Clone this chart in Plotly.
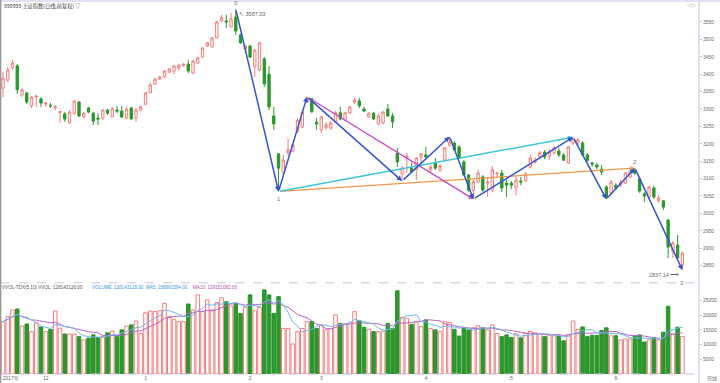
import plotly.graph_objects as go
import pandas as pd

# ---------------- data ----------------
opens = [3360, 3383, 3418, 3424, 3340, 3346, 3309, 3334, 3329, 3314,
         3311, 3303, 3290, 3286, 3260, 3288, 3320, 3277, 3303, 3288,
         3274, 3274, 3297, 3277, 3297, 3294, 3274, 3303, 3274, 3297,
         3314, 3346, 3372, 3386, 3392, 3406, 3409, 3418, 3424, 3429,
         3403, 3432, 3449, 3481, 3478, 3504, 3553, 3553, 3536, 3564,
         3513, 3472, 3481, 3421, 3412, 3444, 3400, 3280, 3171, 3119,
         3174, 3179, 3234, 3248, 3320, 3329, 3262, 3240, 3246, 3245,
         3263, 3289, 3268, 3288, 3320, 3323, 3300, 3277, 3288, 3257,
         3260, 3300, 3280, 3173, 3113, 3159, 3130, 3125, 3162, 3168,
         3125, 3145, 3125, 3153, 3196, 3202, 3191, 3148, 3110, 3066,
         3090, 3105, 3087, 3067, 3113, 3116, 3087, 3087, 3073, 3093,
         3093, 3133, 3148, 3162, 3176, 3165, 3174, 3179, 3168, 3145,
         3202, 3202, 3202, 3168, 3145, 3139, 3127, 3076, 3059, 3081,
         3081, 3087, 3104, 3122, 3099, 3056, 3047, 3073, 3036, 3036,
         2981, 2892, 2909, 2851]
highs = [3406, 3421, 3441, 3429, 3360, 3349, 3337, 3340, 3334, 3320,
         3317, 3311, 3294, 3291, 3297, 3326, 3323, 3291, 3306, 3291,
         3288, 3300, 3300, 3306, 3309, 3309, 3306, 3306, 3303, 3309,
         3349, 3375, 3389, 3395, 3412, 3418, 3426, 3429, 3432, 3441,
         3441, 3449, 3478, 3493, 3507, 3553, 3570, 3570, 3576, 3587.03,
         3516, 3484, 3484, 3472, 3493, 3449, 3424, 3306, 3173, 3168,
         3216, 3202, 3274, 3297, 3335, 3332, 3274, 3280, 3262, 3265,
         3294, 3306, 3291, 3309, 3332, 3332, 3306, 3291, 3291, 3286,
         3294, 3314, 3288, 3188, 3136, 3174, 3145, 3162, 3174, 3191,
         3139, 3159, 3142, 3191, 3220, 3208, 3196, 3153, 3113, 3097,
         3125, 3110, 3102, 3136, 3119, 3125, 3096, 3093, 3105, 3105,
         3119, 3168, 3162, 3179, 3182, 3185, 3194, 3188, 3173, 3194,
         3219, 3216, 3208, 3173, 3148, 3145, 3139, 3081, 3096, 3087,
         3096, 3119, 3125, 3130, 3102, 3061, 3079, 3079, 3053, 3038,
         2984, 2921, 2938, 2889]
lows = [3334, 3378, 3412, 3343, 3334, 3314, 3303, 3306, 3306, 3306,
        3303, 3297, 3260, 3263, 3257, 3283, 3277, 3274, 3288, 3254,
        3254, 3268, 3283, 3277, 3288, 3274, 3271, 3271, 3263, 3294,
        3311, 3346, 3369, 3383, 3389, 3403, 3400, 3412, 3421, 3403,
        3400, 3429, 3447, 3478, 3478, 3504, 3550, 3533, 3536, 3513,
        3487, 3461, 3447, 3392, 3409, 3363, 3297, 3240, 3062.74, 3113,
        3165, 3176, 3231, 3245, 3317, 3289, 3240, 3231, 3240, 3240,
        3260, 3268, 3265, 3286, 3314, 3303, 3291, 3274, 3268, 3254,
        3257, 3277, 3245, 3133, 3093, 3116, 3116, 3095, 3145, 3159,
        3116, 3125, 3119, 3151, 3191, 3179, 3156, 3107, 3062, 3041,
        3087, 3061, 3047, 3061, 3102, 3061, 3047, 3070, 3052, 3081,
        3090, 3130, 3142, 3159, 3156, 3153, 3168, 3162, 3151, 3142,
        3196, 3196, 3165, 3148, 3133, 3127, 3110, 3041, 3052, 3067,
        3076, 3084, 3102, 3110, 3059, 3033, 3041, 3041, 3030, 3010,
        2872, 2872, 2866, 2837.14]
closes = [3389, 3412, 3432, 3355, 3355, 3320, 3334, 3337, 3317, 3317,
          3309, 3306, 3293, 3271, 3291, 3323, 3280, 3288, 3291, 3265,
          3271, 3297, 3288, 3300, 3294, 3277, 3300, 3271, 3297, 3306,
          3346, 3369, 3386, 3392, 3409, 3415, 3424, 3426, 3429, 3409,
          3438, 3447, 3475, 3490, 3504, 3550, 3562, 3550, 3559, 3524,
          3490, 3481, 3449, 3469, 3490, 3372, 3306, 3257, 3130, 3153,
          3182, 3197, 3268, 3291, 3329, 3292, 3257, 3277, 3254, 3260,
          3289, 3271, 3289, 3306, 3326, 3309, 3294, 3288, 3271, 3280,
          3291, 3280, 3263, 3148, 3130, 3165, 3119, 3159, 3171, 3162,
          3133, 3130, 3136, 3188, 3205, 3182, 3159, 3110, 3067, 3091,
          3116, 3067, 3090, 3125, 3116, 3073, 3081, 3081, 3096, 3090,
          3113, 3159, 3153, 3174, 3162, 3176, 3188, 3168, 3153, 3191,
          3214, 3211, 3168, 3153, 3142, 3133, 3119, 3044, 3090, 3073,
          3090, 3116, 3119, 3116, 3064, 3050, 3076, 3047, 3044, 3018,
          2903, 2915, 2872, 2886]
volumes = [17800, 19500, 21760, 22100, 16300, 17000, 14400, 17400, 16000, 14400,
           15200, 21400, 15600, 13600, 13600, 13600, 12700, 11600, 12200, 13300,
           12400, 12700, 14000, 14600, 12700, 15000, 16300, 16700, 18000, 13800,
           20800, 21400, 21200, 21500, 24000, 19500, 18600, 17800, 17800, 23800,
           21800, 26900, 21200, 25200, 21800, 24300, 25900, 24600, 23100, 24000,
           20600, 22700, 26900, 21500, 22700, 28600, 26900, 20600, 26300, 15500,
           15500, 10200, 14400, 15500, 17800, 17800, 15500, 16700, 15000, 15500,
           20100, 17200, 17000, 17400, 21200, 18100, 15900, 15200, 14400, 14400,
           14600, 17200, 15500, 28300, 19300, 19000, 16900, 17800, 16100, 18400,
           15500, 15000, 14400, 17800, 17500, 15200, 12900, 15700, 15000, 15700,
           16400, 15700, 15000, 16700, 13800, 12700, 13300, 12400, 13700, 12300,
           13800, 14500, 14000, 13600, 12700, 13200, 13000, 12900, 11300, 13400,
           18000, 15200, 16000, 12700, 13200, 13100, 14800, 15700, 13000, 13000,
           11600, 11900, 11900, 12900, 13300, 10900, 11600, 12400, 11600, 14200,
           23000, 13600, 15900, 12800]

tick_pos = [1.6, 9, 30, 52, 67, 89, 107, 129]
tick_text = ["2017年", "12", "1", "2", "3", "4", "5", "6"]
price_ticks = list(range(2850, 3551, 50))
vol_ticks = [5000, 10000, 15000, 20000, 25000]
vol_tick_text = ["5000", "10000", "15000", "20000", "25000"]

# zig-zag pivots (candle index, which extreme)
zigzag_idx = [49, 58, 64, 84, 94, 99, 120, 127, 133, 143]
zigzag_kind = ["H", "L", "H", "L", "H", "L", "H", "L", "H", "L"]
zigzag_tags = ["0", "1", None, None, None, None, None, None, "2", "3"]
magenta_seg = [(64, "H"), (99, "L")]
cyan_seg = [(58, "L"), (120, "H")]
orange_seg = [(58, "L"), (133, "H")]

title_text = "999999 上证指数(日线,前复权) ▽"
vol_title_1 = "VVOL-TDX(5,10) VVOL: 128143126.00"
vol_title_2 = "VOLUME: 128143128.00  MA5: 158991594.00"
vol_title_3 = "MA10: 139151082.00"

# ---------------- styling ----------------
UP = "#f47c7c"
DOWN = "#2c972c"
BLUE = "#3554d1"
AXIS = "#c6c2e2"
TXT = "#6a6a6a"
FONT = "Liberation Sans"

idx = list(range(len(opens)))
is_up = [c >= o for o, c in zip(opens, closes)]
vol_s = pd.Series(volumes)
ma5 = vol_s.rolling(5, min_periods=1).mean()
ma10 = vol_s.rolling(10, min_periods=1).mean()


def pv(i, kind):
    return highs[i] if kind == "H" else lows[i]


fig = go.Figure()
fig.add_trace(go.Candlestick(
    x=idx, open=opens, high=highs, low=lows, close=closes,
    increasing=dict(line=dict(color=UP, width=1), fillcolor="white"),
    decreasing=dict(line=dict(color=DOWN, width=1), fillcolor=DOWN),
    whiskerwidth=0, xaxis="x", yaxis="y", hoverinfo="skip"))

fig.add_trace(go.Bar(
    x=idx, y=volumes, xaxis="x", yaxis="y2",
    marker=dict(color=["white" if u else DOWN for u in is_up],
                line=dict(color=[UP if u else DOWN for u in is_up], width=1)),
    hoverinfo="skip"))
fig.add_trace(go.Scatter(x=idx, y=ma10, mode="lines", xaxis="x", yaxis="y2",
                         line=dict(color="#b865c6", width=1), hoverinfo="skip"))
fig.add_trace(go.Scatter(x=idx, y=ma5, mode="lines", xaxis="x", yaxis="y2",
                         line=dict(color="#6fb8ea", width=1), hoverinfo="skip"))

annotations = []


def seg_arrow(a, b, color, width, size=0.7):
    (ia, ka), (ib, kb) = a, b
    annotations.append(dict(
        x=ib, y=pv(ib, kb), ax=ia, ay=pv(ia, ka),
        xref="x", yref="y", axref="x", ayref="y", text="",
        showarrow=True, arrowhead=2, arrowsize=size, arrowwidth=width,
        arrowcolor=color, standoff=0, startstandoff=0))


seg_arrow(*orange_seg, "#f2964a", 1.3)
seg_arrow(*cyan_seg, "#3ec6d8", 1.5)
seg_arrow(*magenta_seg, "#c94bc9", 1.4)
piv = list(zip(zigzag_idx, zigzag_kind))
for a, b in zip(piv[:-1], piv[1:]):
    seg_arrow(a, b, BLUE, 1.5)

for (i, k), tag in zip(piv, zigzag_tags):
    if tag is None:
        continue
    shift = 6 if k == "H" else -7
    if tag == "3":
        shift = -13
    annotations.append(dict(x=i, y=pv(i, k), xref="x", yref="y", text=tag,
                            showarrow=False, yshift=shift,
                            font=dict(family=FONT, size=6, color="#777")))

# extreme value labels
i_hi = highs.index(max(highs))
i_lo = lows.index(min(lows))
annotations.append(dict(x=i_hi, y=highs[i_hi], xref="x", yref="y",
                        text="↖ %.2f" % highs[i_hi], showarrow=False,
                        xanchor="left", yshift=-5, xshift=1,
                        font=dict(family=FONT, size=5.5, color="#666")))
annotations.append(dict(x=i_lo, y=lows[i_lo], xref="x", yref="y",
                        text="%.2f ⟶" % lows[i_lo], showarrow=False,
                        xanchor="right", yshift=-5, xshift=-1,
                        font=dict(family=FONT, size=5.5, color="#666")))

# pane titles
annotations.append(dict(x=0.002, y=0.987, xref="paper", yref="paper", text=title_text,
                        showarrow=False, xanchor="left", yanchor="middle",
                        font=dict(family="Noto Sans CJK SC", size=5.2, color="#444")))
annotations.append(dict(x=-0.001, y=0.233, xref="paper", yref="paper", text=vol_title_1,
                        showarrow=False, xanchor="left", yanchor="middle",
                        font=dict(family=FONT, size=4.6, color="#555")))
annotations.append(dict(x=0.128, y=0.233, xref="paper", yref="paper", text=vol_title_2,
                        showarrow=False, xanchor="left", yanchor="middle",
                        font=dict(family=FONT, size=4.6, color="#3a9ad9")))
annotations.append(dict(x=0.272, y=0.233, xref="paper", yref="paper", text=vol_title_3,
                        showarrow=False, xanchor="left", yanchor="middle",
                        font=dict(family=FONT, size=4.6, color="#b04cb4")))
annotations.append(dict(x=0.998, y=0.99, xref="paper", yref="paper", text="◁ ▷",
                        showarrow=False, xanchor="right", yanchor="middle",
                        font=dict(family=FONT, size=5, color="#999")))
annotations.append(dict(x=1.008, y=-0.011, xref="paper", yref="paper", text="日线",
                        showarrow=False, xanchor="left", yanchor="middle",
                        font=dict(family="Noto Sans CJK SC", size=5, color="#777")))

shapes = [
    dict(type="line", xref="paper", yref="paper", x0=-0.0005, x1=-0.0005, y0=-0.03, y1=1.003,
         line=dict(color="#9a9a9a", width=1.5)),
    dict(type="line", xref="paper", yref="paper", x0=0, x1=1.03, y0=1.0, y1=1.0,
         line=dict(color=AXIS, width=1)),
    dict(type="line", xref="paper", yref="paper", x0=0, x1=1, y0=0.2445, y1=0.2445,
         line=dict(color=AXIS, width=1, dash="dash")),
    dict(type="line", xref="paper", yref="paper", x0=0, x1=1, y0=0.0, y1=0.0,
         line=dict(color=AXIS, width=1, dash="dash")),
    dict(type="line", xref="paper", yref="paper", x0=1, x1=1, y0=-0.03, y1=1.0,
         line=dict(color=AXIS, width=1)),
]

tickfont = dict(family=FONT, size=5, color=TXT)
fig.update_layout(
    width=720, height=383,
    margin=dict(l=1, r=21, t=1, b=9),
    paper_bgcolor="white", plot_bgcolor="white",
    showlegend=False, bargap=0.25,
    xaxis=dict(domain=[0, 1], range=[-0.42, 146.5], anchor="y2",
               tickvals=tick_pos, ticktext=tick_text, tickfont=tickfont,
               showgrid=False, zeroline=False, showline=False, ticks="",
               rangeslider=dict(visible=False), fixedrange=True),
    yaxis=dict(domain=[0.252, 1], range=[2808.5, 3610.3], side="right", anchor="x",
               tickvals=price_ticks, tickfont=tickfont, showgrid=False, zeroline=False,
               showline=False, ticks="outside", ticklen=2, tickcolor=AXIS),
    yaxis2=dict(domain=[0, 0.244], range=[0, 30940], side="right", anchor="x",
                tickvals=vol_ticks, ticktext=vol_tick_text, tickfont=tickfont,
                showgrid=False, zeroline=False,
                showline=False, ticks="outside", ticklen=2, tickcolor=AXIS),
    annotations=annotations, shapes=shapes,
)

fig.write_html("out.html",
               config={"displayModeBar": False},
               post_script="document.body.style.margin='0';"
                           "document.body.style.overflow='hidden';")
